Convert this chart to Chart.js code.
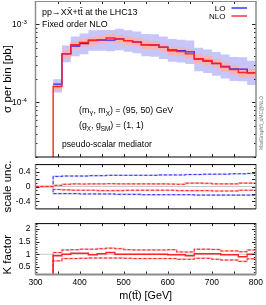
<!DOCTYPE html>
<html>
<head>
<meta charset="utf-8">
<script src="https://cdn.jsdelivr.net/npm/chart.js@4"></script>
<style>
body { margin: 0; background: #fff; }
#wrap { position: relative; width: 266px; height: 305px; }
canvas { position: absolute; left: 0; }
</style>
</head>
<body>
<div id="wrap">
  <canvas id="cMain" width="266" height="160" style="top:0px"></canvas>
  <canvas id="cScale" width="266" height="65" style="top:154px"></canvas>
  <canvas id="cK" width="266" height="92" style="top:213px"></canvas>
</div>
<script>
// bin edges m(tt) [GeV], 20 GeV bins
const binEdges = [300,320,340,360,380,400,420,440,460,480,500,520,540,560,580,600,620,640,660,680,700,720,740,760,780,800];

// sigma per bin [pb]
const nlo = [0,0,1.6e-4,4.2e-4,5.5e-4,5.9e-4,6.2e-4,6.4e-4,6.7e-4,6.5e-4,6.2e-4,5.95e-4,5.5e-4,5.45e-4,5.1e-4,4.6e-4,4.5e-4,4.2e-4,3.65e-4,3.45e-4,3.2e-4,2.85e-4,2.65e-4,2.42e-4,2.4e-4];
const lo  = [0,0,1.72e-4,4.2e-4,5.3e-4,5.7e-4,6.3e-4,6.3e-4,6.3e-4,6.5e-4,6.2e-4,5.95e-4,5.5e-4,5.45e-4,5.1e-4,4.7e-4,4.6e-4,4.45e-4,3.6e-4,3.4e-4,3.15e-4,2.9e-4,2.7e-4,2.68e-4,2.4e-4];

// relative width of the shaded bands in the top panel
const loBandUpRel  = [0,0,0.15,0.28,0.32,0.34,0.34,0.35,0.35,0.36,0.36,0.37,0.37,0.38,0.38,0.39,0.39,0.40,0.40,0.41,0.41,0.42,0.42,0.42,0.43];
const loBandDnRel  = [0,0,-0.22,-0.22,-0.26,-0.27,-0.27,-0.27,-0.28,-0.28,-0.28,-0.28,-0.29,-0.29,-0.29,-0.29,-0.29,-0.3,-0.3,-0.3,-0.3,-0.3,-0.3,-0.3,-0.3];
const nloBandUpRel = [0,0,0.1,0.12,0.12,0.12,0.12,0.12,0.13,0.13,0.13,0.13,0.13,0.13,0.13,0.13,0.13,0.14,0.14,0.14,0.14,0.14,0.14,0.14,0.14];
const nloBandDnRel = [0,0,-0.11,-0.13,-0.12,-0.12,-0.12,-0.12,-0.12,-0.12,-0.12,-0.12,-0.12,-0.12,-0.12,-0.13,-0.13,-0.13,-0.13,-0.13,-0.13,-0.13,-0.13,-0.13,-0.13];

// relative scale uncertainty
const loUp  = [0,0,0.27,0.28,0.28,0.28,0.29,0.29,0.30,0.30,0.30,0.30,0.30,0.30,0.31,0.31,0.31,0.32,0.32,0.33,0.33,0.33,0.34,0.34,0.35];
const loDn  = [0,0,-0.19,-0.19,-0.19,-0.2,-0.2,-0.2,-0.2,-0.21,-0.21,-0.21,-0.22,-0.22,-0.22,-0.22,-0.22,-0.22,-0.23,-0.23,-0.23,-0.23,-0.23,-0.23,-0.23];
const nloUp = [0,0,0.03,0.06,0.07,0.065,0.07,0.07,0.075,0.07,0.07,0.07,0.07,0.07,0.07,0.065,0.06,0.09,0.09,0.085,0.07,0.07,0.07,0.09,0.09];
const nloDn = [0,0,-0.08,-0.09,-0.1,-0.1,-0.1,-0.11,-0.11,-0.11,-0.1,-0.1,-0.1,-0.1,-0.1,-0.1,-0.11,-0.11,-0.11,-0.11,-0.12,-0.12,-0.12,-0.1,-0.1];

// K factor
const kFactor = [0,0,0.94,1.0,1.04,1.04,0.98,1.02,1.07,1.0,1.0,1.0,1.0,1.0,1.0,0.98,0.98,0.94,1.02,1.02,1.02,0.98,0.98,0.9,1.0];
const kUp = [0,0,1.07,1.17,1.18,1.2,1.2,1.22,1.24,1.22,1.18,1.17,1.17,1.17,1.17,1.18,1.09,1.09,1.2,1.2,1.19,1.13,1.13,1.1,1.17];
const kDn = [0,0,0.74,0.83,0.83,0.84,0.85,0.85,0.85,0.85,0.84,0.83,0.83,0.83,0.83,0.83,0.8,0.8,0.84,0.84,0.8,0.77,0.77,0.72,0.82];

// tick labels
const xTicks = [300,400,500,600,700,800];
const mainTicks = [1e-4,1e-3];
const scaleTicks = [-0.4,-0.2,0,0.2,0.4];
const kTicks = [0.5,1,1.5,2];

const RED = '#ff2424', PINK = '#f7b2b2', BLUE = '#2a2aff', LBLUE = '#c6c6f8', GRAY = '#8c8c8c';
const FONT = '"Liberation Sans", Arial, sans-serif';
const FLOOR = 1e-9; // empty bins on the log axis -> far below the frame

function histo(vals) {
    const pts = vals.map((v, i) => ({x: binEdges[i], y: v}));
    pts.push({x: binEdges[binEdges.length - 1], y: vals[vals.length - 1]});
    return pts;
}

function ln(ctx, x1, y1, x2, y2) {
    ctx.beginPath(); ctx.moveTo(x1, y1); ctx.lineTo(x2, y2); ctx.stroke();
}

function stepLine(data, color, width, dash) {
    return {data: histo(data), borderColor: color, borderWidth: width, borderDash: dash || [],
            stepped: 'before', pointRadius: 0, fill: false, spanGaps: false};
}

function band(data, color, fill) {
    return {data: histo(data), borderColor: 'rgba(0,0,0,0)', borderWidth: 1, backgroundColor: color,
            stepped: 'before', pointRadius: 0, fill: fill};
}

// frame, inward ticks, reference line
function decor(o) {
    return {
        id: 'decor',
        beforeDatasetsDraw(chart) {
            if (o.ref === undefined) return;
            const {ctx, chartArea: a, scales: {y}} = chart;
            ctx.save(); ctx.strokeStyle = '#c8c8c8'; ctx.lineWidth = 1;
            const py = y.getPixelForValue(o.ref);
            ln(ctx, a.left, py, a.right, py);
            ctx.restore();
        },
        afterDatasetsDraw(chart) {
            const {ctx, chartArea: a, scales: {x, y}} = chart;
            ctx.save();
            ctx.strokeStyle = '#222'; ctx.lineWidth = 1;
            for (let v = 350; v < 800; v += 50) {
                const px = Math.round(x.getPixelForValue(v)) + 0.5;
                ln(ctx, px, a.top, px, a.top + 3);
                ln(ctx, px, a.bottom, px, a.bottom - 3);
            }
            o.major.forEach(v => {
                const py = Math.round(y.getPixelForValue(v)) + 0.5;
                ln(ctx, a.left, py, a.left + 4, py);
                ln(ctx, a.right, py, a.right - 4, py);
            });
            o.minor.forEach(v => {
                const py = Math.round(y.getPixelForValue(v)) + 0.5;
                ln(ctx, a.left, py, a.left + 2, py);
                ln(ctx, a.right, py, a.right - 2, py);
            });
            ctx.lineWidth = 1.5; ctx.strokeStyle = GRAY;
            ln(ctx, a.left, a.top, a.left, a.bottom);
            ln(ctx, a.right, a.top, a.right, a.bottom);
            ctx.lineWidth = o.topW || 1; ctx.strokeStyle = o.top;
            ln(ctx, a.left, a.top + 0.5, a.right, a.top + 0.5);
            ctx.lineWidth = o.bottomW || 1; ctx.strokeStyle = o.bottom;
            ln(ctx, a.left, a.bottom, a.right, a.bottom);
            if (o.extra) o.extra(chart);
            ctx.restore();
        }
    };
}

// text with sub/superscripts: parts = [[text, 'sub'|'sup'|''], ...]
function rich(ctx, parts, x, y, size) {
    ctx.textAlign = 'left'; ctx.textBaseline = 'alphabetic';
    for (const [t, k] of parts) {
        const s = k ? size * 0.72 : size;
        ctx.font = s + 'px ' + FONT;
        const dy = k === 'sub' ? size * 0.3 : (k === 'sup' ? -size * 0.42 : 0);
        ctx.fillText(t, x, y + dy);
        x += ctx.measureText(t).width;
    }
}

function yAxisBase(title, align) {
    return {
        afterFit: s => { s.width = 35.5; },
        grid: {display: false, drawTicks: false},
        border: {display: false},
        title: {display: true, text: title, align: align || 'center', color: '#000',
                font: {family: FONT, size: 11.5}, padding: {top: 1, bottom: 0}}
    };
}

const xHidden = {type: 'linear', min: 300, max: 800, display: false};
const common = {responsive: false, animation: false, events: [],
                plugins: {legend: {display: false}, tooltip: {enabled: false}}};

// ---------- main panel ----------
const logv = arr => arr.map(v => v > 0 ? v : FLOOR);
const loBandUp = lo.map((v, i) => v * (1 + loBandUpRel[i]));
const loBandDn = lo.map((v, i) => v * (1 + loBandDnRel[i]));
const nloBandUp = nlo.map((v, i) => v * (1 + nloBandUpRel[i]));
const nloBandDn = nlo.map((v, i) => v * (1 + nloBandDnRel[i]));

const mainMinor = [];
for (let e = -5; e <= -3; e++) for (let m = 2; m <= 9; m++) {
    const v = m * Math.pow(10, e);
    if (v >= 2e-5 && v <= 2e-3) mainMinor.push(v);
}

new Chart(document.getElementById('cMain'), {
    type: 'line',
    data: {datasets: [
        stepLine(logv(nlo), RED, 1.4),
        stepLine(lo.map(v => v > 0 ? v : null), BLUE, 1.4),
        band(logv(nloBandUp), PINK, '+1'),
        band(logv(nloBandDn), PINK, false),
        band(logv(loBandUp), LBLUE, '+1'),
        band(logv(loBandDn), LBLUE, false)
    ]},
    options: Object.assign({}, common, {
        layout: {padding: {top: 1, right: 10, bottom: 3, left: 0}},
        scales: {
            x: xHidden,
            y: Object.assign(yAxisBase('σ per bin [pb]'), {
                type: 'logarithmic', min: 2e-5, max: 2e-3,
                ticks: {display: false}
            })
        }
    }),
    plugins: [decor({
        major: mainTicks, minor: mainMinor, top: GRAY, bottom: '#000',
        extra(chart) {
            const {ctx, scales: {y}} = chart;
            ctx.fillStyle = '#000';
            mainTicks.forEach(v => {
                const py = y.getPixelForValue(v);
                rich(ctx, [['10', ''], [String(Math.round(Math.log10(v))), 'sup']], 12, py + 3, 8.5);
            });
            // process / settings text
            rich(ctx, [['pp→XX\u0304+tt\u0304 at the LHC13', '']], 42, 14.5, 8.9);
            rich(ctx, [['Fixed order NLO', '']], 42, 27, 8.9);
            rich(ctx, [['(m', ''], ['Y', 'sub'], [', m', ''], ['X', 'sub'], [') = (95, 50) GeV', '']], 79, 113, 8.8);
            rich(ctx, [['(g', ''], ['X', 'sub'], [', g', ''], ['SM', 'sub'], [') = (1, 1)', '']], 79, 128, 8.8);
            rich(ctx, [['pseudo-scalar mediator', '']], 62, 147, 8.6);
            // legend
            ctx.font = '8px ' + FONT; ctx.textAlign = 'right';
            ctx.fillText('LO', 225.5, 11);
            ctx.fillText('NLO', 225.5, 19);
            ctx.lineWidth = 1.4;
            ctx.strokeStyle = BLUE; ln(ctx, 231.5, 8, 247, 8);
            ctx.strokeStyle = RED; ln(ctx, 231.5, 16, 247, 16);
            // generator tag
            ctx.save();
            ctx.translate(263, 123); ctx.rotate(-Math.PI / 2);
            ctx.font = '4.9px ' + FONT; ctx.fillStyle = '#777'; ctx.textAlign = 'center';
            ctx.fillText('MadGraph5_aMC@NLO', 0, 0);
            ctx.restore();
        }
    })]
});

// ---------- scale uncertainty panel ----------
const scaleMinor = [-0.5,-0.3,-0.1,0.1,0.3,0.5];
new Chart(document.getElementById('cScale'), {
    type: 'line',
    data: {datasets: [
        stepLine(nloUp, RED, 1, [3, 2]),
        stepLine(nloDn, RED, 1, [3, 2]),
        stepLine(nloUp, PINK, 1.6),
        stepLine(nloDn, PINK, 1.6),
        stepLine(loUp, BLUE, 1, [3, 2]),
        stepLine(loDn, BLUE, 1, [3, 2]),
        stepLine(loUp, LBLUE, 1.6),
        stepLine(loDn, LBLUE, 1.6)
    ]},
    options: Object.assign({}, common, {
        layout: {padding: {top: 3, right: 10, bottom: 3, left: 0}},
        scales: {
            x: xHidden,
            y: Object.assign(yAxisBase('scale unc.'), {
                type: 'linear', min: -0.6, max: 0.6,
                afterBuildTicks: s => { s.ticks = scaleTicks.map(v => ({value: v})); },
                ticks: {padding: 5, color: '#000', font: {family: FONT, size: 8.5}, callback: v => String(v)}
            })
        }
    }),
    plugins: [decor({major: scaleTicks, minor: scaleMinor, ref: 0, top: '#000', bottom: '#000'})]
});

// ---------- K factor panel ----------
const kMinor = [];
for (let i = 3; i <= 22; i++) if (i % 5) kMinor.push(i / 10);
new Chart(document.getElementById('cK'), {
    type: 'line',
    data: {datasets: [
        stepLine(kFactor, RED, 1.4),
        stepLine(kUp, RED, 1, [3, 2]),
        stepLine(kDn, RED, 1, [3, 2]),
        stepLine(kUp, PINK, 1.6),
        stepLine(kDn, PINK, 1.6)
    ]},
    options: Object.assign({}, common, {
        layout: {padding: {top: 3, right: 10, bottom: 0, left: 0}},
        scales: {
            x: {
                type: 'linear', min: 300, max: 800,
                afterFit: s => { s.height = 30.5; },
                afterBuildTicks: s => { s.ticks = xTicks.map(v => ({value: v})); },
                grid: {display: false, drawTicks: false},
                border: {display: false},
                ticks: {padding: 3, maxRotation: 0, color: '#000', font: {family: FONT, size: 8.5}, callback: v => String(v)},
                title: {display: true, text: 'm(tt\u0304) [GeV]', color: '#000', font: {family: FONT, size: 10.8}, padding: {top: 0, bottom: 2}}
            },
            y: Object.assign(yAxisBase('K factor', 'start'), {
                type: 'linear', min: 0.2, max: 2.23,
                afterBuildTicks: s => { s.ticks = kTicks.map(v => ({value: v})); },
                ticks: {padding: 5, color: '#000', font: {family: FONT, size: 8.5}, callback: v => String(v)}
            })
        }
    }),
    plugins: [decor({major: kTicks, minor: kMinor, ref: 1, top: '#000', bottom: GRAY, bottomW: 2})]
});
</script>
</body>
</html>
